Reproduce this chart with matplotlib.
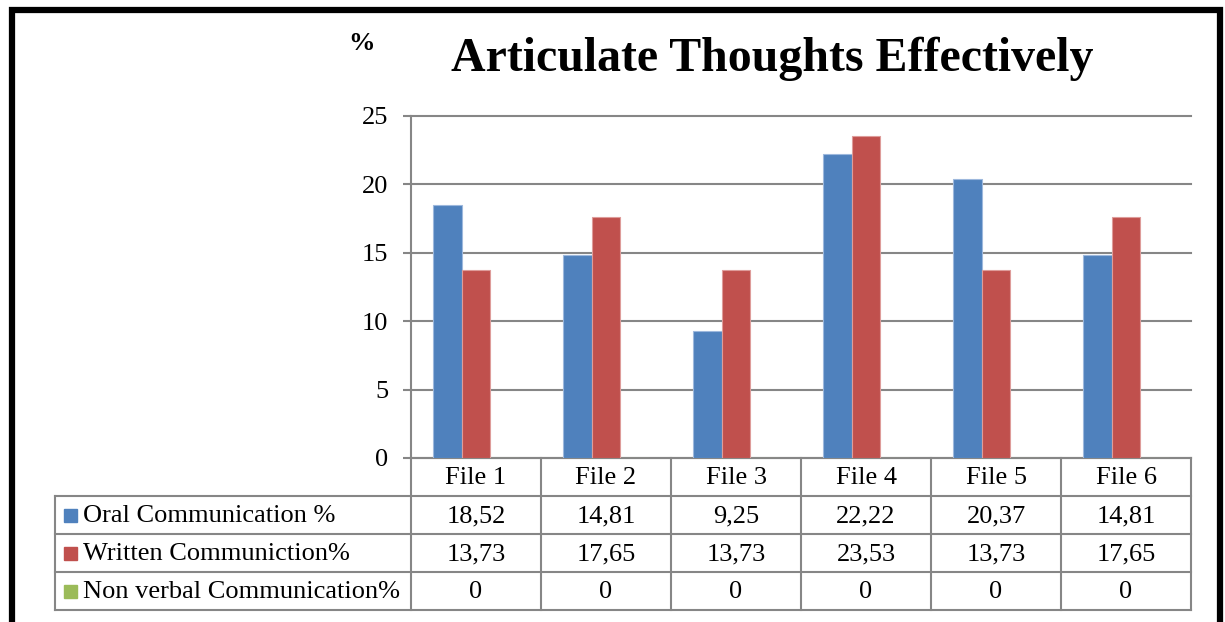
import matplotlib
matplotlib.use("Agg")
import matplotlib.pyplot as plt
import numpy as np

categories = ["File 1", "File 2", "File 3", "File 4", "File 5", "File 6"]
series_names = ["Oral Communication %", "Written Communiction%", "Non verbal Communication%"]
oral = [18.52, 14.81, 9.25, 22.22, 20.37, 14.81]
written = [13.73, 17.65, 13.73, 23.53, 13.73, 17.65]
nonverbal = [0, 0, 0, 0, 0, 0]
oral_labels = ["18,52", "14,81", "9,25", "22,22", "20,37", "14,81"]
written_labels = ["13,73", "17,65", "13,73", "23,53", "13,73", "17,65"]
nonverbal_labels = ["0", "0", "0", "0", "0", "0"]
yticks = [0, 5, 10, 15, 20, 25]
colors = ["#4F81BD", "#C0504D", "#9BBB59"]
edge_colors = ["#9DB8DD", "#DE9C9A", "#C6D9A5"]

W, H = 1225, 622
plt.rcParams['font.family'] = ['Liberation Serif', 'DejaVu Serif']
fig = plt.figure(figsize=(W / 100, H / 100), dpi=100)

# overlay in pixel coordinates
ov = fig.add_axes([0, 0, 1, 1])
ov.set_xlim(0, W)
ov.set_ylim(H, 0)
ov.axis("off")

# plot axes
ax_l, ax_r, ax_t, ax_b = 411, 1191, 116, 458
ax = fig.add_axes([ax_l / W, 1 - ax_b / H, (ax_r - ax_l) / W, (ax_b - ax_t) / H])
ax.set_facecolor("none")
x = np.arange(len(categories))
bw = 0.223
all_series = [oral, written, nonverbal]
for i, vals in enumerate(all_series):
    ax.bar(x + (i - 1) * bw, vals, width=bw, color=colors[i],
           edgecolor=edge_colors[i], linewidth=0.8, zorder=3)
ax.set_xlim(-0.5, len(categories) - 0.5)
ax.set_ylim(0, 25)
ax.set_yticks(yticks)
ax.set_yticklabels([str(t) for t in yticks], fontsize=19)
ax.tick_params(axis="y", length=5.8, width=1.5, color="#868686", pad=10.5)
ax.set_xticks([])
ax.grid(axis="y", color="#868686", linewidth=1.5, zorder=0)
for gl in ax.get_ygridlines():
    gl.set_clip_on(False)
for s in ["top", "right", "bottom"]:
    ax.spines[s].set_visible(False)
ax.spines["left"].set_color("#868686")
ax.spines["left"].set_linewidth(1.5)

# title and unit
ov.text(772, 71, "Articulate Thoughts Effectively", fontsize=34.5, fontweight="bold",
        ha="center", va="baseline")
ov.text(361.5, 50, "%", fontsize=19, fontweight="bold", ha="center", va="baseline")

# data table
gc = "#868686"
rows = [458, 496, 534, 572, 610]
col_x = np.linspace(ax_l, ax_r, len(categories) + 1)
left = 55
lw = 1.5
ov.plot([ax_l, ax_r], [rows[0], rows[0]], color=gc, lw=lw)
for ry in rows[1:]:
    ov.plot([left, ax_r], [ry, ry], color=gc, lw=lw)
for cx in col_x:
    ov.plot([cx, cx], [rows[0], rows[-1]], color=gc, lw=lw)
ov.plot([left, left], [rows[1], rows[-1]], color=gc, lw=lw)

fs = 19
for j, c in enumerate(categories):
    ov.text((col_x[j] + col_x[j + 1]) / 2, (rows[0] + rows[1]) / 2 + 1, c,
            fontsize=fs, ha="center", va="center")
row_labels = [oral_labels, written_labels, nonverbal_labels]
for i, labs in enumerate(row_labels):
    yc = (rows[i + 1] + rows[i + 2]) / 2 + 1
    ov.add_patch(plt.Rectangle((64, yc - 7.5), 13, 13, color=colors[i]))
    ov.text(83, yc, series_names[i], fontsize=fs, ha="left", va="center")
    for j, lab in enumerate(labs):
        ov.text((col_x[j] + col_x[j + 1]) / 2, yc, lab, fontsize=fs, ha="center", va="center")

# outer frame
ov.plot([12, 12, 1220, 1220], [640, 9.5, 9.5, 640], color="black", lw=4.5,
        solid_joinstyle="miter")

fig.savefig("out.png", dpi=100)
